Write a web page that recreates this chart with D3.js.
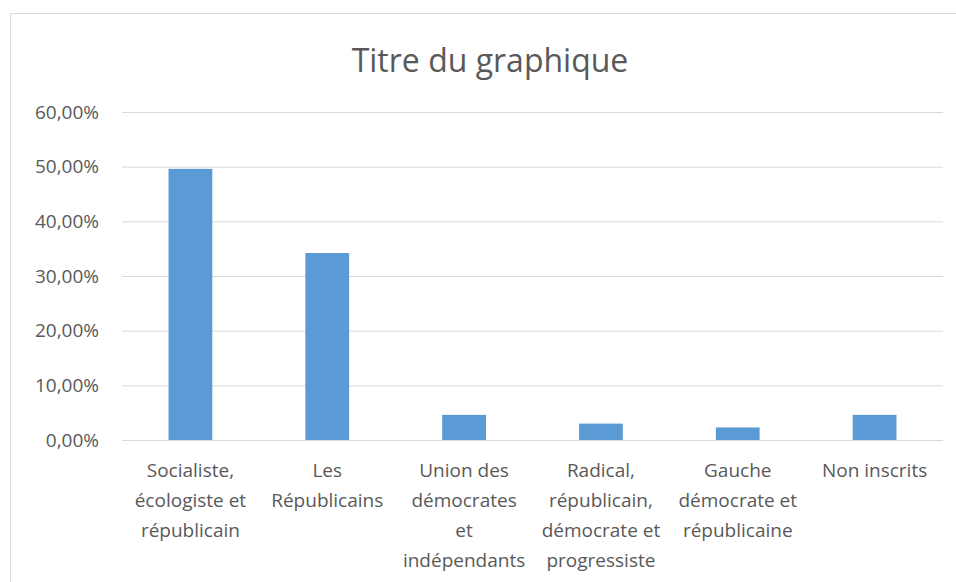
<!DOCTYPE html>
<html>
<head>
<meta charset="utf-8">
<script src="https://cdn.jsdelivr.net/npm/d3@7"></script>
<style>
  body { margin: 0; background: #fff; }
  svg { display: block; font-family: "Open Sans", sans-serif; }
</style>
</head>
<body>
<svg></svg>
<script>
// groupes parlementaires (libellés déjà coupés comme dans Excel)
const categories = [
  ["Socialiste,", "écologiste et", "républicain"],
  ["Les", "Républicains"],
  ["Union des", "démocrates", "et", "indépendants"],
  ["Radical,", "républicain,", "démocrate et", "progressiste"],
  ["Gauche", "démocrate et", "républicaine"],
  ["Non inscrits"]
];
const values = [0.496, 0.342, 0.046, 0.030, 0.023, 0.046];
const yTicks = [0, 0.1, 0.2, 0.3, 0.4, 0.5, 0.6];
const title = "Titre du graphique";

let width = 956;
let height = 582;
let plot = { left: 122, right: 943, top: 112, bottom: 440 };

let fr = d3.formatLocale({
  decimal: ",",
  thousands: " ",
  grouping: [3],
  currency: ["", " €"]
});
let fmt = fr.format(".2%");

let svg = d3.select("svg").attr("width", width).attr("height", height);

// cadre du graphique
svg
  .append("rect")
  .attr("x", 10.5)
  .attr("y", 13.5)
  .attr("width", width + 20)
  .attr("height", height + 20)
  .attr("fill", "#fff")
  .attr("stroke", "#d9d9d9");

let x = d3
  .scaleBand()
  .domain(d3.range(categories.length))
  .range([plot.left, plot.right])
  .paddingInner(0.68)
  .paddingOuter(0.34);

let y = d3
  .scaleLinear()
  .domain([0, 0.6])
  .range([plot.bottom, plot.top]);

// grille + graduations
let yAxis = svg
  .append("g")
  .attr("transform", `translate(${plot.left},0)`)
  .call(
    d3
      .axisLeft(y)
      .tickValues(yTicks)
      .tickFormat(fmt)
      .tickSize(-(plot.right - plot.left))
      .tickPadding(23)
  );
yAxis.select(".domain").remove();
yAxis.selectAll(".tick line").attr("stroke", "#d9d9d9");
yAxis
  .selectAll(".tick text")
  .attr("fill", "#595959")
  .style("font-size", "19px")
  .style("font-family", "'Open Sans', sans-serif");

// barres
svg
  .append("g")
  .selectAll("rect")
  .data(values)
  .enter()
  .append("rect")
  .attr("x", (d, i) => x(i))
  .attr("y", d => y(d))
  .attr("width", x.bandwidth())
  .attr("height", d => y(0) - y(d))
  .attr("fill", "#5b9bd5");

// libellés des catégories
let labels = svg
  .append("g")
  .selectAll("text")
  .data(categories)
  .enter()
  .append("text")
  .attr("text-anchor", "middle")
  .attr("fill", "#595959")
  .style("font-size", "19px");

labels
  .selectAll("tspan")
  .data((d, i) => d.map(t => ({ t: t, i: i })))
  .enter()
  .append("tspan")
  .attr("x", d => x(d.i) + x.bandwidth() / 2)
  .attr("y", (d, j) => plot.bottom + 37 + j * 30)
  .text(d => d.t);

// titre
svg
  .append("text")
  .attr("x", 490)
  .attr("y", 72)
  .attr("text-anchor", "middle")
  .attr("fill", "#595959")
  .style("font-size", "32px")
  .text(title);
</script>
</body>
</html>
